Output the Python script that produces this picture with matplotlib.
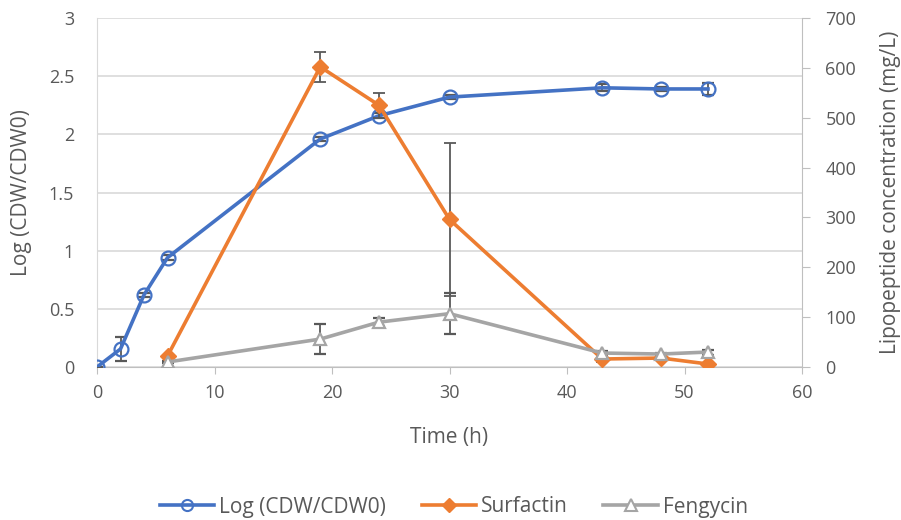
import matplotlib.pyplot as plt
from matplotlib.lines import Line2D
from matplotlib.ticker import MultipleLocator

plt.rcParams['font.family'] = ['Open Sans', 'DejaVu Sans']

# sampling times (h)
t_log = [0, 2, 4, 6, 19, 24, 30, 43, 48, 52]
log_cdw = [0, 0.155, 0.62, 0.94, 1.96, 2.16, 2.32, 2.40, 2.39, 2.39]
log_err = [0, 0.1, 0.02, 0.02, 0.02, 0.02, 0.02, 0.03, 0.02, 0.05]

t_lp = [6, 19, 24, 30, 43, 48, 52]
surfactin = [22, 602, 525, 296, 16, 18, 6]
surf_err = [3, 30, 25, 153, 5, 4, 2]
fengycin = [10, 56, 90, 107, 28, 26, 30]
feng_err = [2, 30, 8, 41, 4, 3, 5]

blue = '#4472C4'
orange = '#ED7D31'
grey = '#A5A5A5'
err_col = '#595959'
txt = '#595959'
W, H = 901, 520

fig = plt.figure(figsize=(W / 100, H / 100), dpi=100)
ax = fig.add_axes([97 / W, 1 - 367 / H, 705 / W, 349 / H])
ax2 = ax.twinx()

eb = dict(ecolor=err_col, elinewidth=1.3, capsize=4.5, capthick=1.3, zorder=3)
ax.errorbar(t_log, log_cdw, yerr=log_err, color=blue, lw=2.6, marker='o',
            ms=10, mfc='none', mec=blue, mew=1.6, **eb)
ax2.errorbar(t_lp, surfactin, yerr=surf_err, color=orange, lw=2.6, marker='D',
             ms=8, **eb)
ax2.errorbar(t_lp, fengycin, yerr=feng_err, color=grey, lw=2.6, marker='^',
             ms=9, mfc='white', mec=grey, mew=1.6, **eb)

ax.set_xlim(0, 60)
ax.set_ylim(0, 3)
ax2.set_ylim(0, 700)
ax.xaxis.set_major_locator(MultipleLocator(10))
ax.yaxis.set_major_locator(MultipleLocator(0.5))
ax2.yaxis.set_major_locator(MultipleLocator(100))
ax.yaxis.set_major_formatter(lambda v, p: f'{v:g}')

ax.grid(axis='y', color='#D9D9D9', lw=1.2)
ax.set_axisbelow(True)
for a in (ax, ax2):
    for s in a.spines.values():
        s.set_visible(False)
ax.spines['bottom'].set_visible(True)
ax.spines['bottom'].set_color('#BFBFBF')
ax.spines['left'].set_visible(True)
ax.spines['left'].set_color('#D9D9D9')
ax2.spines['right'].set_visible(True)
ax2.spines['right'].set_color('#BFBFBF')

ax.tick_params(axis='y', length=0, labelsize=13, labelcolor=txt, pad=16.5)
ax2.tick_params(axis='y', length=5.8, color='#BFBFBF', labelsize=13,
                labelcolor=txt, pad=11)
ax.tick_params(axis='x', length=5, color='#BFBFBF', labelsize=13,
               labelcolor=txt, pad=7)

ax.set_xlabel('Time (h)', fontsize=15, color=txt)
ax.xaxis.set_label_coords(0.5, -(437 - 367) / 349, transform=ax.transAxes)
ax.set_ylabel('Log (CDW/CDW0)', fontsize=15, color=txt)
ax.yaxis.set_label_coords(-(97 - 22) / 705, 0.5)
ax2.set_ylabel('Lipopeptide concentration (mg/L)', fontsize=15, color=txt)
ax2.yaxis.set_label_coords((890 - 97) / 705, 0.5)
ax.xaxis.label.set_va('center')
ax.yaxis.label.set_va('center')
ax2.yaxis.label.set_va('center')

handles = [
    Line2D([], [], color=blue, lw=2.6, marker='o', ms=8, mfc='none', mec=blue, mew=1.5),
    Line2D([], [], color=orange, lw=2.6, marker='D', ms=7),
    Line2D([], [], color=grey, lw=2.6, marker='^', ms=8, mfc='white', mec=grey, mew=1.5),
]
labels = ['Log (CDW/CDW0)', 'Surfactin', 'Fengycin']
fig.legend(handles, labels, loc='center', bbox_to_anchor=(454 / W, 1 - 507 / H),
           ncol=3, frameon=False, fontsize=15, labelcolor=txt,
           handlelength=2.6, handletextpad=0.25, columnspacing=1.7,
           borderpad=0, borderaxespad=0)

fig.savefig('out.png', dpi=100)
